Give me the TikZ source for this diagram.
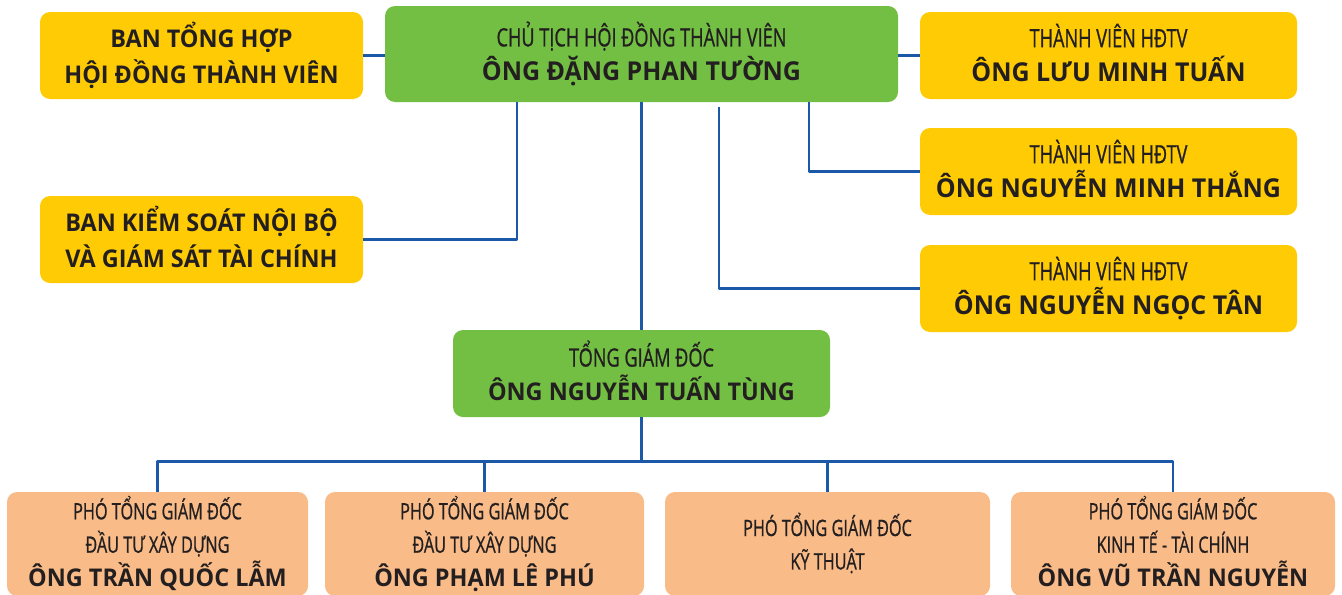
\documentclass[tikz,border=0pt]{standalone}
\usepackage{fontspec}
\setmainfont{Open Sans}
\newfontfamily\hepfont[FakeStretch=0.72,FakeBold=0.8]{Open Sans}
\newfontfamily\tenfont[FakeStretch=0.96]{Open Sans}
\definecolor{vang}{HTML}{FFCB05}
\definecolor{xanhla}{HTML}{72BF44}
\definecolor{cam}{HTML}{F9BB87}
\definecolor{duong}{HTML}{1B58A8}
\definecolor{chu}{HTML}{231F20}
\newcommand{\hoten}[2][13]{{\tenfont\bfseries\fontsize{#1}{17}\selectfont #2}}

\begin{document}
\begin{tikzpicture}
	[x=0.5pt,y=-0.5pt,
	 hop/.style={rounded corners=5pt,align=center,inner sep=0pt,text=chu,
	   font=\hepfont\fontsize{12.6}{17}\selectfont,
	   execute at begin node={\rule{0pt}{14pt}},
	   execute at end node={\rule[-3pt]{0pt}{3pt}}},
	 ban/.style={hop,fill=vang,minimum width=161.5pt,minimum height=43.5pt,
	   font=\tenfont\bfseries\fontsize{12.2}{18}\selectfont},
	 tv/.style={hop,fill=vang,minimum width=188.5pt,minimum height=43.5pt},
	 lanhdao/.style={hop,fill=xanhla},
	 pho/.style={hop,fill=cam,minimum height=52pt,
	   font=\hepfont\fontsize{11.3}{16.7}\selectfont},
	 noi/.style={draw=duong,line width=1.3pt,line join=round}]
\useasboundingbox (0,0) rectangle (1342,594);
\clip (0,0) rectangle (1342,594);
% hoi dong thanh vien
\node[lanhdao,minimum width=256.5pt,minimum height=48pt] (ct) at (641.5,54)
  {CHỦ TỊCH HỘI ĐỒNG THÀNH VIÊN\\ \hoten{ÔNG ĐẶNG PHAN TƯỜNG}};
\node[ban] (bth) at (201.5,55.5) {BAN TỔNG HỢP\\ HỘI ĐỒNG THÀNH VIÊN};
\node[ban] (bks) at (201.5,239.5) {BAN KIỂM SOÁT NỘI BỘ\\ VÀ GIÁM SÁT TÀI CHÍNH};
\node[tv] (tv1) at (1108.5,55.5) {THÀNH VIÊN HĐTV\\ \hoten{ÔNG LƯU MINH TUẤN}};
\node[tv] (tv2) at (1108.5,171.5) {THÀNH VIÊN HĐTV\\ \hoten{ÔNG NGUYỄN MINH THẮNG}};
\node[tv] (tv3) at (1108.5,288.5) {THÀNH VIÊN HĐTV\\ \hoten{ÔNG NGUYỄN NGỌC TÂN}};
% ban dieu hanh
\node[lanhdao,minimum width=188.5pt,minimum height=43.5pt] (tgd) at (641.5,373.5)
  {TỔNG GIÁM ĐỐC\\ \hoten[12.2]{ÔNG NGUYỄN TUẤN TÙNG}};
\node[pho,minimum width=150.5pt] (pg1) at (157.5,544)
  {PHÓ TỔNG GIÁM ĐỐC\\ ĐẦU TƯ XÂY DỰNG\\ \hoten[12.2]{ÔNG TRẦN QUỐC LẪM}};
\node[pho,minimum width=159.5pt] (pg2) at (484.5,544)
  {PHÓ TỔNG GIÁM ĐỐC\\ ĐẦU TƯ XÂY DỰNG\\ \hoten[12.2]{ÔNG PHẠM LÊ PHÚ}};
\node[pho,minimum width=162.5pt] (pg3) at (827.5,544)
  {PHÓ TỔNG GIÁM ĐỐC\\ KỸ THUẬT};
\node[pho,minimum width=162pt] (pg4) at (1173,544)
  {PHÓ TỔNG GIÁM ĐỐC\\ KINH TẾ - TÀI CHÍNH\\ \hoten[12.2]{ÔNG VŨ TRẦN NGUYỄN}};
% diem re nhanh
\coordinate (rk) at (517,102);
\coordinate (r2) at (809,102);
\coordinate (r3) at (719,107);
\draw[noi] (bth.east) -- (bth.east -| ct.west)
  (ct.east |- tv1.west) -- (tv1.west)
  (rk) |- (bks.east)
  (r2) |- (tv2.west)
  (r3) |- (tv3.west)
  (ct.south) -- (tgd.north)
  (tgd.south) -- ++(0,45)
  (pg1.north) -- ++(0,-30) -| (pg4.north);
\foreach \n in {pg2,pg3}
\draw[noi] (\n.north) -- ++(0,-30);
\end{tikzpicture}
\end{document}
